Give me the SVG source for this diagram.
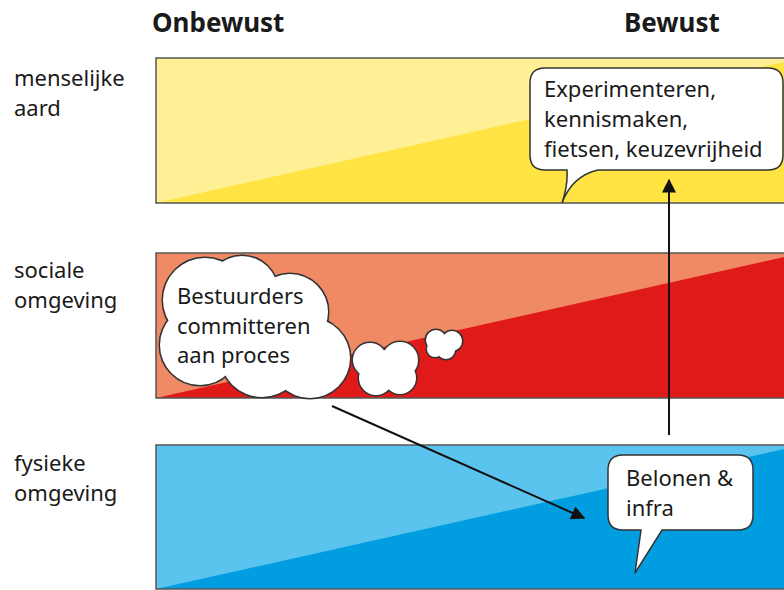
<svg xmlns="http://www.w3.org/2000/svg" width="784" height="590" viewBox="0 0 784 590">
<defs>
<style>
.lbl{font-family:"Noto Sans","Open Sans",sans-serif;font-size:22px;fill:#1a1a1a}
.hdr{font-family:"Noto Sans","Open Sans",sans-serif;font-size:26px;font-weight:bold;fill:#1a1a1a}
.txt{font-family:"Noto Sans","Open Sans",sans-serif;font-size:22px;fill:#1a1a1a}
.band{fill:none;stroke:#555;stroke-width:1.5}
.bub{fill:#fff;stroke:#333;stroke-width:1.5}
.cl{fill:#fff;stroke:#333;stroke-width:3}
.cf{fill:#fff}
.con{stroke:#111;stroke-width:2;fill:none}
</style>
<marker id="ah" viewBox="0 0 10 10" refX="9" refY="5" markerWidth="7" markerHeight="7" orient="auto" markerUnits="strokeWidth">
<path d="M0 0 L10 5 L0 10 Z" fill="#111"/>
</marker>
</defs>
<rect width="784" height="590" fill="#fff"/>
<text class="hdr" x="152" y="32">Onbewust</text>
<text class="hdr" x="624" y="32">Bewust</text>

<g id="band-menselijke-aard">
<rect x="156" y="58" width="640" height="145" fill="#FFF096"/>
<polygon points="156,203 784,62 784,203" fill="#FFE443"/>
<rect class="band" x="156" y="58" width="640" height="145"/>
<text class="lbl" x="14" y="86">menselijke</text>
<text class="lbl" x="14" y="116">aard</text>
</g>
<g id="band-sociale-omgeving">
<rect x="156" y="253" width="640" height="145" fill="#F08A64"/>
<polygon points="156,398 784,257 784,398" fill="#E01919"/>
<rect class="band" x="156" y="253" width="640" height="145"/>
<text class="lbl" x="14" y="278">sociale</text>
<text class="lbl" x="14" y="308">omgeving</text>
</g>
<g id="band-fysieke-omgeving">
<rect x="156" y="445" width="640" height="144" fill="#5BC4EE"/>
<polygon points="156,589 784,449 784,589" fill="#009EE0"/>
<rect class="band" x="156" y="445" width="640" height="144"/>
<text class="lbl" x="14" y="471">fysieke</text>
<text class="lbl" x="14" y="501">omgeving</text>
</g>

<g id="connectors">
<line class="con" x1="669" y1="435" x2="669" y2="180" marker-end="url(#ah)"/>
<line class="con" x1="332" y1="406" x2="584" y2="518" marker-end="url(#ah)"/>
</g>

<g id="bubble-experimenteren">
<path class="bub" d="M545 68 H768 Q783 68 783 83 V155 Q783 170 768 170 H598 Q572 176 562 203 Q568 186 567 170 H545 Q530 170 530 155 V83 Q530 68 545 68 Z"/>
<text class="txt" x="544" y="97">Experimenteren,</text>
<text class="txt" x="544" y="127">kennismaken,</text>
<text class="txt" x="544" y="157">fietsen, keuzevrijheid</text>
</g>

<g id="cloud-bestuurders">
<g class="cl">
<circle cx="205" cy="300" r="42"/><circle cx="242" cy="292" r="36"/><circle cx="290" cy="312" r="38"/>
<circle cx="200" cy="345" r="40"/><circle cx="262" cy="355" r="42"/><circle cx="310" cy="358" r="40"/>
<circle cx="250" cy="330" r="40"/>
</g>
<g class="cf">
<circle cx="205" cy="300" r="42"/><circle cx="242" cy="292" r="36"/><circle cx="290" cy="312" r="38"/>
<circle cx="200" cy="345" r="40"/><circle cx="262" cy="355" r="42"/><circle cx="310" cy="358" r="40"/>
<circle cx="250" cy="330" r="40"/>
</g>
<text class="txt" x="177" y="304">Bestuurders</text>
<text class="txt" x="177" y="334">committeren</text>
<text class="txt" x="177" y="363">aan proces</text>
</g>

<g id="cloud-medium">
<g class="cl">
<circle cx="370" cy="360" r="17"/><circle cx="400" cy="360" r="18"/><circle cx="400" cy="378" r="16"/><circle cx="376" cy="378" r="17"/><circle cx="388" cy="368" r="18"/>
</g>
<g class="cf">
<circle cx="370" cy="360" r="17"/><circle cx="400" cy="360" r="18"/><circle cx="400" cy="378" r="16"/><circle cx="376" cy="378" r="17"/><circle cx="388" cy="368" r="18"/>
</g>
</g>
<g id="cloud-small">
<g class="cl">
<circle cx="436" cy="340" r="10"/><circle cx="452" cy="341" r="10"/><circle cx="446" cy="350" r="9"/><circle cx="435" cy="349" r="8"/>
</g>
<g class="cf">
<circle cx="436" cy="340" r="10"/><circle cx="452" cy="341" r="10"/><circle cx="446" cy="350" r="9"/><circle cx="435" cy="349" r="8"/>
</g>
</g>

<g id="bubble-belonen">
<path class="bub" d="M623 455 H738 Q753 455 753 470 V515 Q753 530 738 530 H662 L635 573 L641 530 H623 Q608 530 608 515 V470 Q608 455 623 455 Z"/>
<text class="txt" x="626" y="486">Belonen &amp;</text>
<text class="txt" x="626" y="516">infra</text>
</g>
</svg>
